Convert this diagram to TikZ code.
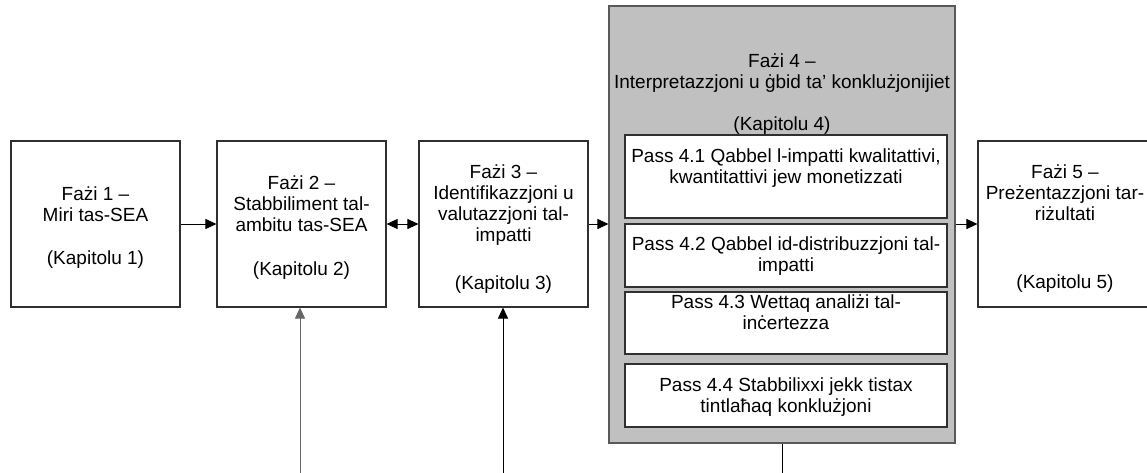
\documentclass[tikz,border=0pt]{standalone}
\usepackage{fontspec}
\setmainfont{Liberation Sans}
\usetikzlibrary{arrows.meta}
\definecolor{panelgray}{HTML}{C0C0C0}
\definecolor{edge}{HTML}{303030}
\begin{document}
\begin{tikzpicture}[x=1pt,y=-1pt,
  box/.style={draw=edge, line width=1.1pt, fill=white, inner sep=0pt},
  panel/.style={draw=edge!80, line width=1.1pt, fill=panelgray, inner sep=0pt},
  txt/.style={align=center, inner sep=0pt, font=\fontsize{19}{20.9}\selectfont},
  arr/.style={-{Triangle[length=11pt,width=10pt]}, line width=0.9pt, draw=black},
  darr/.style={{Triangle[length=11pt,width=10pt]}-{Triangle[length=11pt,width=10pt]}, line width=0.9pt, draw=black},
  plain/.style={line width=0.9pt, draw=black}]
\useasboundingbox (0,0) rectangle (1147,473);

% phase boxes
\node[box, minimum width=169pt, minimum height=166pt] (b1) at (95.5,224) {};
\node[box, minimum width=169pt, minimum height=166pt] (b2) at (301.5,224) {};
\node[box, minimum width=169pt, minimum height=166pt] (b3) at (503.5,224) {};
\node[box, minimum width=200pt, minimum height=166pt] (b5) at (1078,224) {};
\node[panel, minimum width=346pt, minimum height=437pt] (f4) at (782,224.5) {};

% sub steps
\node[box, minimum width=322pt, minimum height=83pt] (s1) at (786,176.5) {};
\node[box, minimum width=322pt, minimum height=63pt] (s2) at (786,255.5) {};
\node[box, minimum width=322pt, minimum height=62pt] (s3) at (786,323) {};
\node[box, minimum width=322pt, minimum height=63pt] (s4) at (786,395.5) {};

% texts
\node[txt] (t1) at (95.5,227.5) {Fażi 1 –\\Miri tas-SEA\\[22pt](Kapitolu 1)};
\node[txt] (t2) at (301.5,227.5) {Fażi 2 –\\Stabbiliment tal-\\ambitu tas-SEA\\[23pt](Kapitolu 2)};
\node[txt] (t3) at (503.5,229) {Fażi 3 –\\Identifikazzjoni u\\valutazzjoni tal-\\impatti\\[27pt](Kapitolu 3)};
\node[txt] (t4) at (782,94) {Fażi 4 –\\Interpretazzjoni u ġbid ta’ konklużjonijiet\\[21pt](Kapitolu 4)};
\node[txt] (t5) at (1065,228.5) {Fażi 5 –\\Preżentazzjoni tar-\\riżultati\\[47pt](Kapitolu 5)};
\node[txt] (ts1) at (786,168) {Pass 4.1 Qabbel l-impatti kwalitattivi,\\kwantitattivi jew monetizzati};
\node[txt] (ts2) at (786,256) {Pass 4.2 Qabbel id-distribuzzjoni tal-\\impatti};
\node[txt] (ts3) at (786,312.5) {Pass 4.3 Wettaq analiżi tal-\\inċertezza};
\node[txt] (ts4) at (786,397) {Pass 4.4 Stabbilixxi jekk tistax\\tintlaħaq konklużjoni};

% connectors
\draw[arr] (b1.east) -- (b2.west);
\draw[darr] (b2.east) -- (b3.west);
\draw[arr] (b3.east) -- (b3.east -| f4.west);
\draw[arr] (b5.west -| f4.east) -- (b5.west);

\coordinate (in2) at (300,473);
\coordinate (in3) at (503,473);
\coordinate (out4) at (782,473);
\draw[arr, draw=black!60] (in2) -- (in2 |- b2.south);
\draw[arr] (in3) -- (in3 |- b3.south);
\draw[plain] (f4.south) -- (out4);
\end{tikzpicture}
\end{document}
